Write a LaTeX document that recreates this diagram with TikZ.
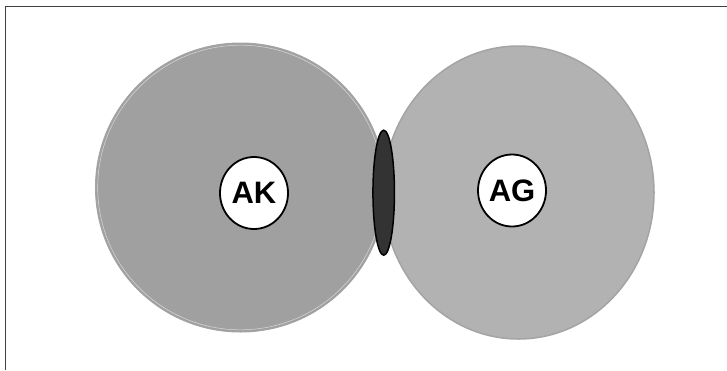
\documentclass[tikz,border=0pt]{standalone}
\usepackage{fontspec}
\setmainfont{Liberation Sans}
\usetikzlibrary{shapes.geometric}
\definecolor{leftgray}{HTML}{A0A0A0}
\definecolor{rightgray}{HTML}{B2B2B2}
\definecolor{edgegray}{HTML}{A4A4A4}
\definecolor{coregray}{HTML}{333333}
\definecolor{framegray}{HTML}{404040}
\tikzset{
  region/.style={ellipse, inner sep=0pt},
  label circle/.style={ellipse, draw=black, line width=1.8pt, fill=white,
    minimum width=68pt, minimum height=72pt, inner sep=0pt,
    font=\fontsize{31}{32}\selectfont\bfseries},
}
\begin{document}
\begin{tikzpicture}[x=1pt,y=-1pt]
\useasboundingbox (0,0) rectangle (727,370);
% frame (only left and top edges visible)
\coordinate (fbl) at (5.5,370);
\coordinate (ftl) at (5.5,6.5);
\coordinate (ftr) at (727,6.5);
\draw[framegray, line width=1pt] (fbl) -- (ftl) -- (ftr);
% large regions
\node[region, fill=leftgray, draw=edgegray, line width=1pt,
  minimum width=290pt, minimum height=289pt] (L) at (240.5,187.5) {};
\draw[white!60!leftgray, line width=0.5pt] (240.5,187.5) ellipse (142.8pt and 142.3pt);
\node[region, fill=rightgray, draw=edgegray, line width=1.5pt,
  minimum width=271pt, minimum height=293pt] (R) at (518.5,192.5) {};
% overlap
\node[region, fill=coregray, draw=black, line width=1.5pt,
  minimum width=21.5pt, minimum height=125pt] (O) at (383.7,192.7) {};
% labels
\node[label circle] (AK) at (254,193) {AK};
\node[label circle] (AG) at (512,190.5) {AG};
\end{tikzpicture}
\end{document}
